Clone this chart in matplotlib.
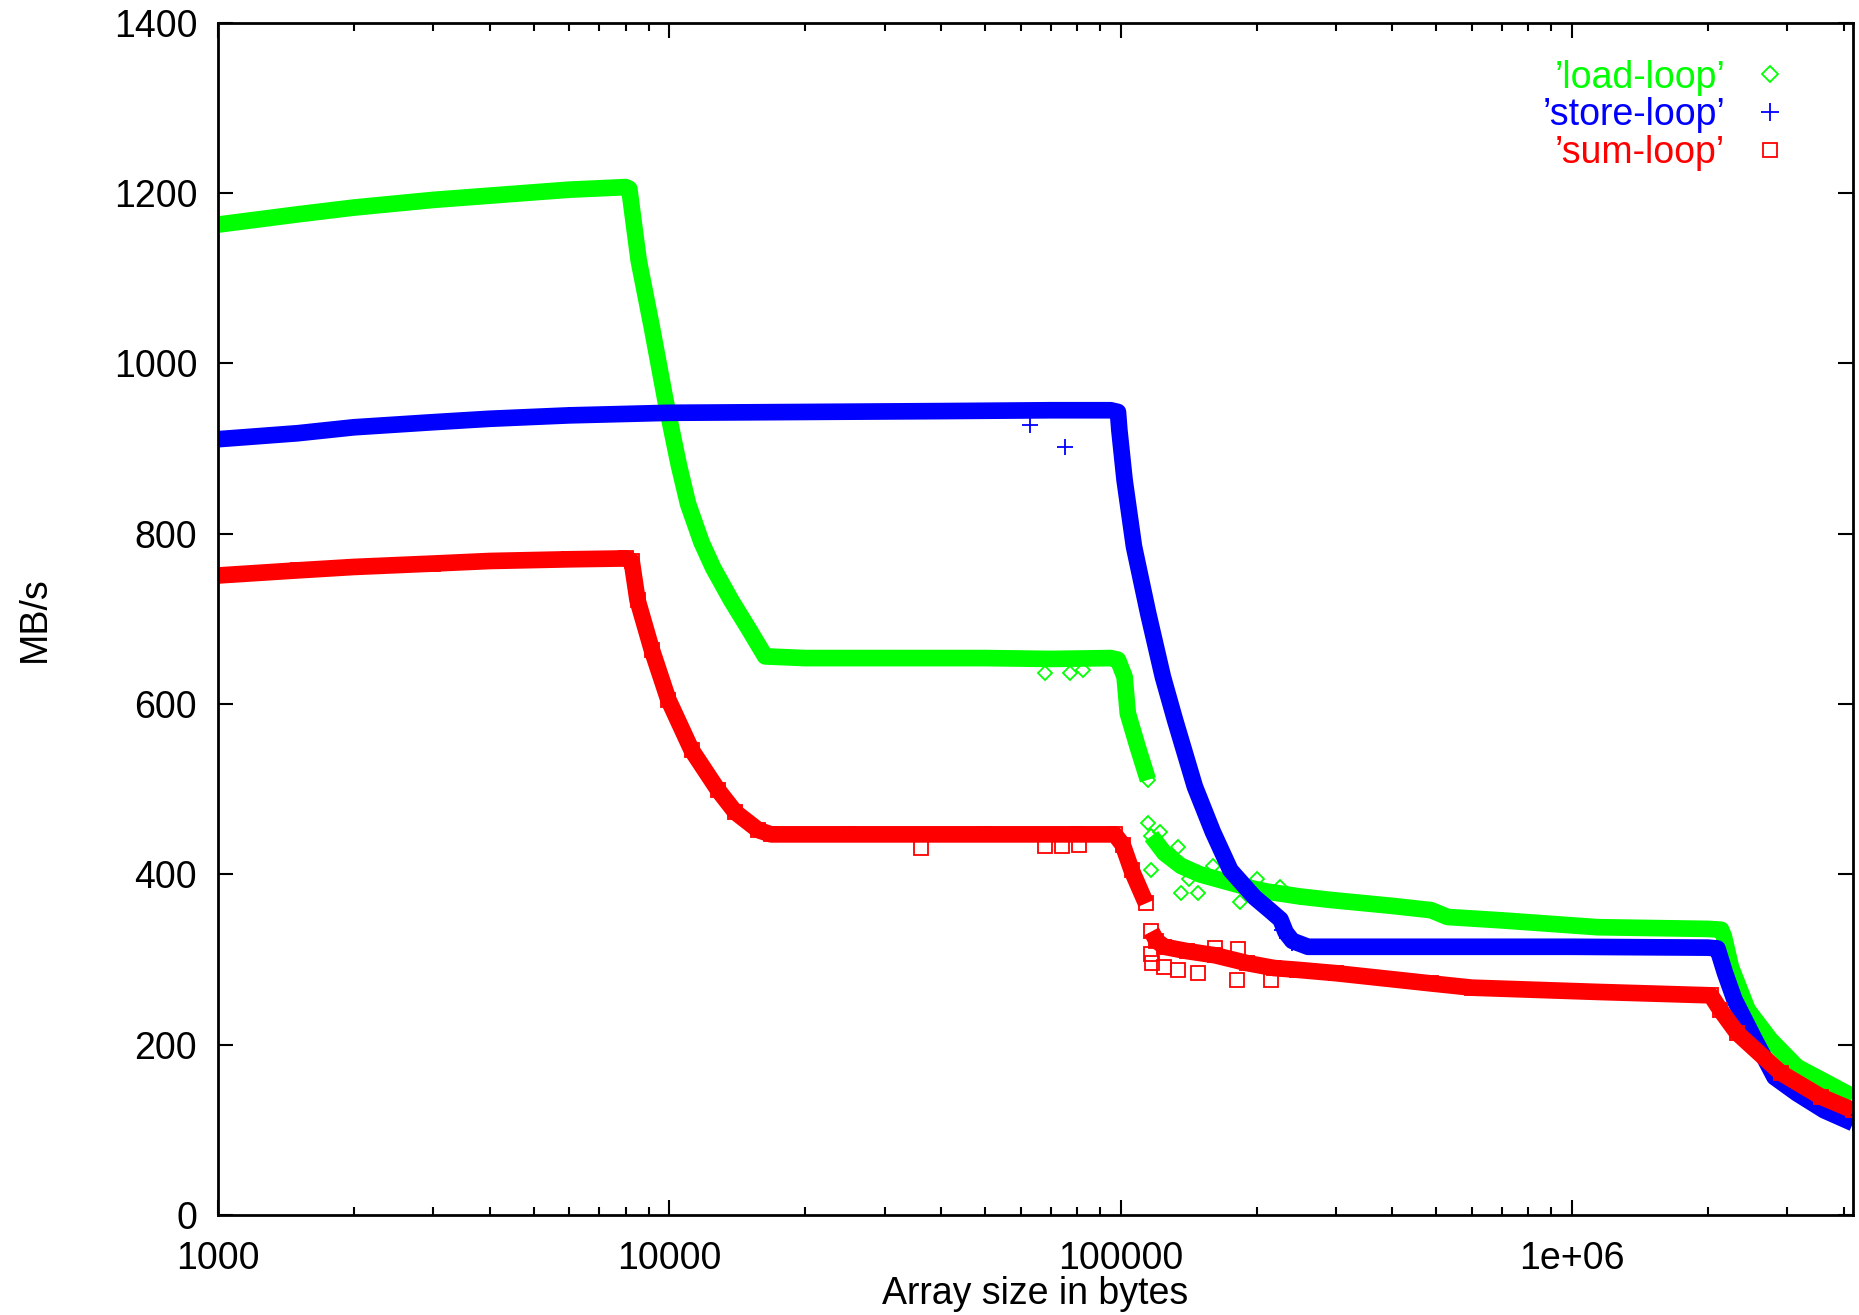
"""Memory bandwidth vs array size (load / store / sum loops)."""

import matplotlib
matplotlib.use("Agg")
import matplotlib.pyplot as plt
from matplotlib.lines import Line2D
from matplotlib.ticker import FixedLocator, FixedFormatter, LogLocator, NullFormatter

plt.rcParams["font.family"] = ["Liberation Sans", "DejaVu Sans"]

# values (x: bytes, y: MB/s)
load_a_x = [1000, 1500, 2000, 3000, 4000, 6000, 8000, 8150, 8550, 9140, 9800,
            10500, 11000, 11780, 12500, 13700, 15000, 16300, 20000, 30000,
            50000, 70000, 95000, 98600, 102000, 103700, 109000, 114900]
load_a_y = [1163, 1175, 1183, 1192, 1197, 1204, 1207, 1205, 1121, 1043, 957,
            880, 835, 790, 760, 722, 688, 656, 654, 654,
            654, 653, 654, 652, 632, 589, 550, 511]
load_b_x = [117000, 125000, 136000, 150000, 170000, 190000, 210000, 250000,
            292000, 400000, 487000, 530000, 700000, 1140000, 2000000, 2140000,
            2170000, 2250000, 2450000, 2750000, 3150000, 3680000, 4194304]
load_b_y = [445, 425, 410, 400, 392, 385, 380, 374,
            370, 363, 358, 350, 346, 338, 336, 335,
            327, 291, 241, 206, 174, 155, 139]
load_pts_x = [67900, 77100, 82400, 115000, 117000, 122000, 128000, 134000,
              136000, 142000, 148000, 160000, 184000, 200000, 225000]
load_pts_y = [637, 637, 640, 460, 405, 450, 420, 432,
              378, 395, 378, 410, 368, 395, 385]

store_x = [1000, 1500, 2000, 3000, 4000, 6000, 10000, 20000, 40000, 70000,
           95000, 98600, 99300, 102000, 107000, 115000, 124000, 132000, 146000,
           160000, 175000, 198000, 215000, 226000, 232000, 240000, 260000,
           400000, 1000000, 2000000, 2100000, 2180000, 2290000, 2540000,
           2810000, 3150000, 3620000, 4194304]
store_y = [911, 918, 925, 931, 935, 939, 942, 943, 944, 945,
           945, 943, 922, 863, 785, 707, 632, 581, 503,
           450, 405, 373, 357, 347, 332, 322, 315,
           315, 315, 314, 313, 285, 253, 206,
           162, 143, 123, 108]
store_pts_x = [63000, 75300, 228000, 233000, 236000, 240000]
store_pts_y = [928, 902, 335, 325, 330, 320]

sum_a_x = [1000, 1500, 2000, 3000, 4000, 6000, 8000, 8250, 8500, 9140, 9950,
           11200, 12820, 14000, 15740, 16800, 25000, 50000, 80000, 97000,
           101000, 105700, 113800]
sum_a_y = [751, 757, 761, 765, 768, 770, 771, 768, 722, 664, 605,
           546, 499, 473, 452, 447, 447, 447, 447, 447,
           435, 405, 366]
sum_b_x = [117000, 120000, 125000, 140000, 162000, 190000, 219000, 246000,
           300000, 487000, 600000, 1140000, 2030000, 2130000, 2320000,
           2900000, 3560000, 4194304]
sum_b_y = [333, 322, 315, 310, 305, 296, 290, 288,
           284, 272, 267, 262, 258, 241, 214,
           167, 139, 123]
sum_pts_x = [36100, 68000, 74000, 81000, 117000, 117500, 125000, 134000,
             148000, 162000, 181000, 181500, 215000]
sum_pts_y = [431, 433, 433, 434, 307, 296, 291, 288,
             284, 313, 276, 312, 276]

y_ticks = [0, 200, 400, 600, 800, 1000, 1200, 1400]
x_ticks = [1000, 10000, 100000, 1000000]
x_tick_labels = ["1000", "10000", "100000", "1e+06"]

GREEN = "#00ff00"
BLUE = "#0000ff"
RED = "#ff0000"
FS = 27


def band(ax, xs, ys, color, marker, ms):
    ax.plot(xs, ys, color=color, lw=12, solid_capstyle="butt",
            solid_joinstyle="round", marker=marker, ms=ms, mfc="none",
            mew=1.3)


def main():
    fig = plt.figure(figsize=(18.59, 13.15), dpi=100)
    ax = fig.add_axes([0.1173, 0.076, 0.8795, 0.9067])

    band(ax, load_a_x, load_a_y, GREEN, "D", 7.5)
    band(ax, load_b_x, load_b_y, GREEN, "D", 7.5)
    ax.plot(load_pts_x, load_pts_y, ls="none", color=GREEN, marker="D",
            ms=7.5, mfc="none", mew=1.3)

    band(ax, store_x, store_y, BLUE, "+", 12)
    ax.plot(store_pts_x, store_pts_y, ls="none", color=BLUE, marker="+",
            ms=12, mew=1.3)

    band(ax, sum_a_x, sum_a_y, RED, "s", 10)
    band(ax, sum_b_x, sum_b_y, RED, "s", 10)
    ax.plot(sum_pts_x, sum_pts_y, ls="none", color=RED, marker="s",
            ms=10, mfc="none", mew=1.3)

    ax.set_xscale("log")
    ax.set_xlim(1000, 4194304)
    ax.set_ylim(0, 1400)

    ax.xaxis.set_major_locator(FixedLocator(x_ticks))
    ax.xaxis.set_major_formatter(FixedFormatter(x_tick_labels))
    ax.xaxis.set_minor_locator(LogLocator(base=10, subs=range(2, 10)))
    ax.xaxis.set_minor_formatter(NullFormatter())
    ax.set_yticks(y_ticks)

    ax.tick_params(which="both", direction="in", top=True, right=True,
                   width=1.5, labelsize=FS)
    ax.tick_params(which="major", length=11)
    ax.tick_params(which="minor", length=6)
    ax.tick_params(axis="x", which="major", pad=19)
    ax.tick_params(axis="y", which="major", pad=15)
    for side in ax.spines.values():
        side.set_linewidth(2)

    ax.set_xlabel("Array size in bytes", fontsize=FS, va="center")
    ax.xaxis.set_label_coords(0.5, -0.066)
    ax.set_ylabel("MB/s", fontsize=FS, va="center")
    ax.yaxis.set_label_coords(-0.112, 0.5)

    handles = [
        Line2D([], [], ls="none", color=GREEN, marker="D", ms=8, mfc="none", mew=1.3),
        Line2D([], [], ls="none", color=BLUE, marker="+", ms=13, mew=1.3),
        Line2D([], [], ls="none", color=RED, marker="s", ms=10, mfc="none", mew=1.3),
    ]
    labels = ["\u2019load-loop\u2019", "\u2019store-loop\u2019", "\u2019sum-loop\u2019"]
    ax.legend(handles, labels, loc="upper right", frameon=False,
              markerfirst=False, fontsize=FS, labelcolor=[GREEN, BLUE, RED],
              handlelength=1.0, handletextpad=0.7, labelspacing=0.05,
              borderpad=0, borderaxespad=0,
              bbox_to_anchor=(1789 / 1859, 1 - 59.5 / 1315),
              bbox_transform=fig.transFigure)

    fig.savefig("out.png", dpi=100)


if __name__ == "__main__":
    main()
